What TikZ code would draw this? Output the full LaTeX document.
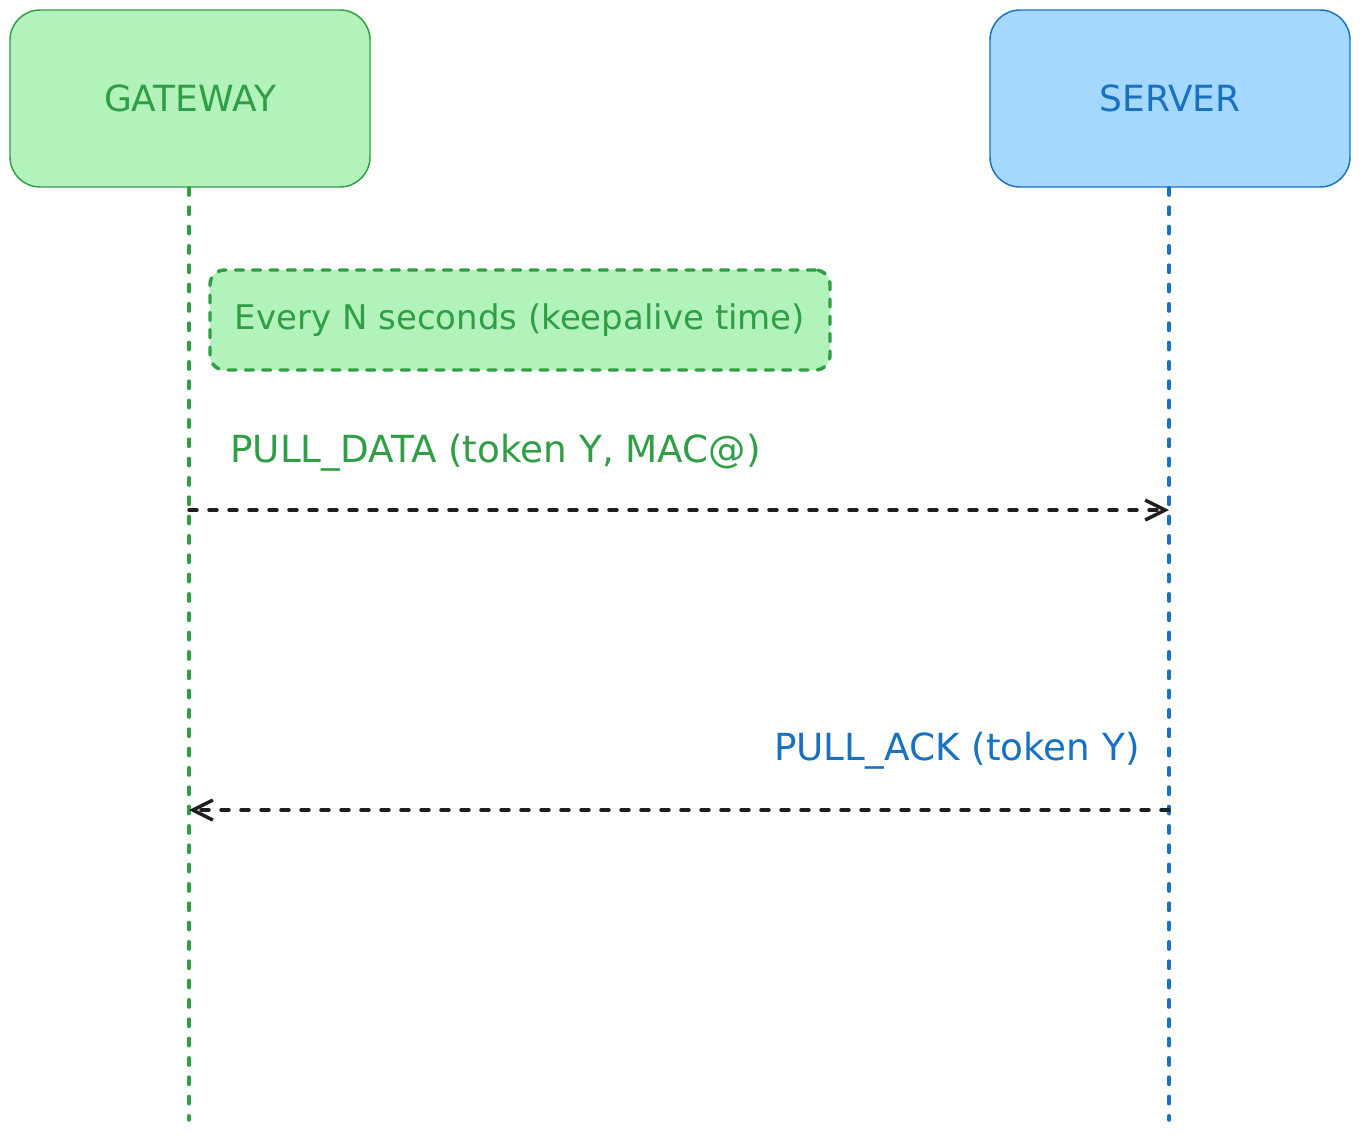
\documentclass[tikz,border=0pt]{standalone}
\usepackage{fontspec}
\setmainfont{DejaVu Sans}
\usetikzlibrary{arrows.meta}
\definecolor{gstroke}{HTML}{2F9E44}
\definecolor{gfill}{HTML}{B2F2BB}
\definecolor{bstroke}{HTML}{1971C2}
\definecolor{bfill}{HTML}{A5D8FF}
\definecolor{ink}{HTML}{1E1E1E}
\begin{document}
\begin{tikzpicture}[x=0.75pt,y=-0.75pt,
  actor/.style={rounded corners=22.5pt, line width=1.1pt, minimum width=270pt, minimum height=132.75pt, inner sep=0pt, font=\fontsize{27}{30}\selectfont},
  gwbox/.style={actor, draw=gstroke, fill=gfill, text=gstroke},
  svbox/.style={actor, draw=bstroke, fill=bfill, text=bstroke},
  life/.style={line width=2.6pt, dash pattern=on 5.5pt off 9pt, line cap=round},
  notebox/.style={draw=gstroke, fill=gfill, text=gstroke, line width=2.6pt, dash pattern=on 6pt off 7pt, line cap=round, rounded corners=11pt, minimum width=465pt, minimum height=75pt, inner sep=0pt, font=\fontsize{25.5}{30}\selectfont},
  lbl/.style={inner sep=0pt, font=\fontsize{28}{32}\selectfont},
  msg/.style={draw=ink, line width=2.6pt, dash pattern=on 6pt off 9pt, line cap=round, -{Straight Barb[length=15pt,width=15pt]}}
]
\useasboundingbox (0,0) rectangle (1360,1140);
\node[gwbox] (gw) at (190,98.5) {GATEWAY};
\node[svbox] (sv) at (1170,98.5) {SERVER};
\coordinate (gwend) at (189,1120);
\coordinate (svend) at (1169,1120);
\draw[life, draw=gstroke] (gw.south -| gwend) -- (gwend);
\draw[life, draw=bstroke] (sv.south -| svend) -- (svend);
\node[notebox] (note) at (520,320) {Every N seconds (keepalive time)};
\node[lbl, text=gstroke, anchor=base west] (l1) at (230,462) {PULL\_DATA (token Y, MAC@)};
\node[lbl, text=bstroke, anchor=base east] (l2) at (1140,760) {PULL\_ACK (token Y)};
\coordinate (a1s) at (189,510);
\coordinate (a1e) at (1169,510);
\coordinate (a2s) at (1169,810);
\coordinate (a2e) at (189,810);
\draw[msg] (a1s) -- (a1e);
\draw[msg] (a2s) -- (a2e);
\end{tikzpicture}
\end{document}
